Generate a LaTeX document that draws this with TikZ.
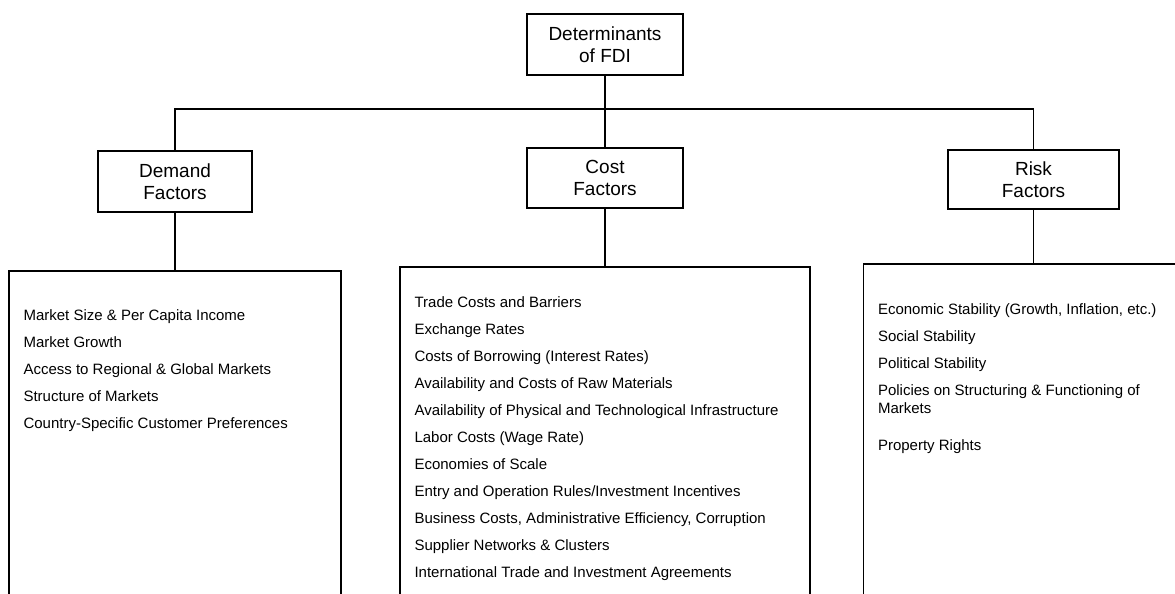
\documentclass[tikz,border=0pt]{standalone}
\usepackage{fontspec}
\setmainfont{Liberation Sans}
\usetikzlibrary{positioning}
\tikzset{
  every picture/.append style={line width=1.1pt},
}

\begin{document}
\begin{tikzpicture}[
  x=1pt, y=-1pt,
  % --- Styles (plain B/W boxes) ---
  head/.style={
    rectangle, draw=black, align=center,
    inner sep=0pt, outer sep=0pt, minimum height=61pt,
    font=\fontsize{19}{22}\selectfont
  },
  listbox/.style={draw=black, inner sep=0pt, outer sep=0pt, minimum height=360pt},
  items/.style={anchor=north west, align=left, inner sep=0pt,
    font=\fontsize{15}{27}\selectfont},
  link/.style={draw=black}
]
\useasboundingbox (0,0) rectangle (1175,594);
\clip (0,0) rectangle (1175,594);

% ---- Root and bus ----
\node[head, minimum width=156pt] (fdi) at (605,44.5) {Determinants\\of FDI};
\coordinate (bus) at (605,109);

% ---- Factor groups ----
\node[head, minimum width=154pt] (dem) at (175,181.5) {Demand\\Factors};
\node[head, minimum width=156pt, minimum height=60pt, below=73pt of fdi] (cost) {Cost\\Factors};
\node[head, minimum width=171pt, minimum height=59pt] (risk) at (1033.5,179.5) {Risk\\Factors};

% ---- List boxes (run off the page) ----
\node[listbox, minimum width=332pt, below=59pt of dem]  (demlist)  {};
\node[listbox, minimum width=410pt, below=59pt of cost] (costlist) {};
\node[listbox, minimum width=340pt, below=55pt of risk] (risklist) {};

% ---- List texts ----
\node[items] (demtext) at ([shift={(14,30)}]demlist.north west)
  {\strut Market Size \& Per Capita Income\\
   Market Growth\\
   Access to Regional \& Global Markets\\
   Structure of Markets\\
   Country-Specific Customer Preferences};
\node[items] (costtext) at ([shift={(14,21.5)}]costlist.north west)
  {\strut Trade Costs and Barriers\\
   Exchange Rates\\
   Costs of Borrowing (Interest Rates)\\
   Availability and Costs of Raw Materials\\
   Availability of Physical and Technological Infrastructure\\
   Labor Costs (Wage Rate)\\
   Economies of Scale\\
   Entry and Operation Rules/Investment Incentives\\
   Business Costs, Administrative Efficiency, Corruption\\
   Supplier Networks \& Clusters\\
   International Trade and Investment Agreements};
\node[items] (risktext) at ([shift={(14,31.5)}]risklist.north west)
  {\strut Economic Stability (Growth, Inflation, etc.)\\
   Social Stability\\
   Political Stability\\
   Policies on Structuring \& Functioning of\\[-9pt]
   Markets\\[10pt]
   Property Rights};

% ---- Tree connectors ----
\draw[link] (fdi.south) -- (cost.north);
\draw[link] (dem.north) |- (bus) -| (risk.north);
\draw[link] (dem.south) -- (demlist.north);
\draw[link] (cost.south) -- (costlist.north);
\draw[link] (risk.south) -- (risklist.north);

\end{tikzpicture}
\end{document}
